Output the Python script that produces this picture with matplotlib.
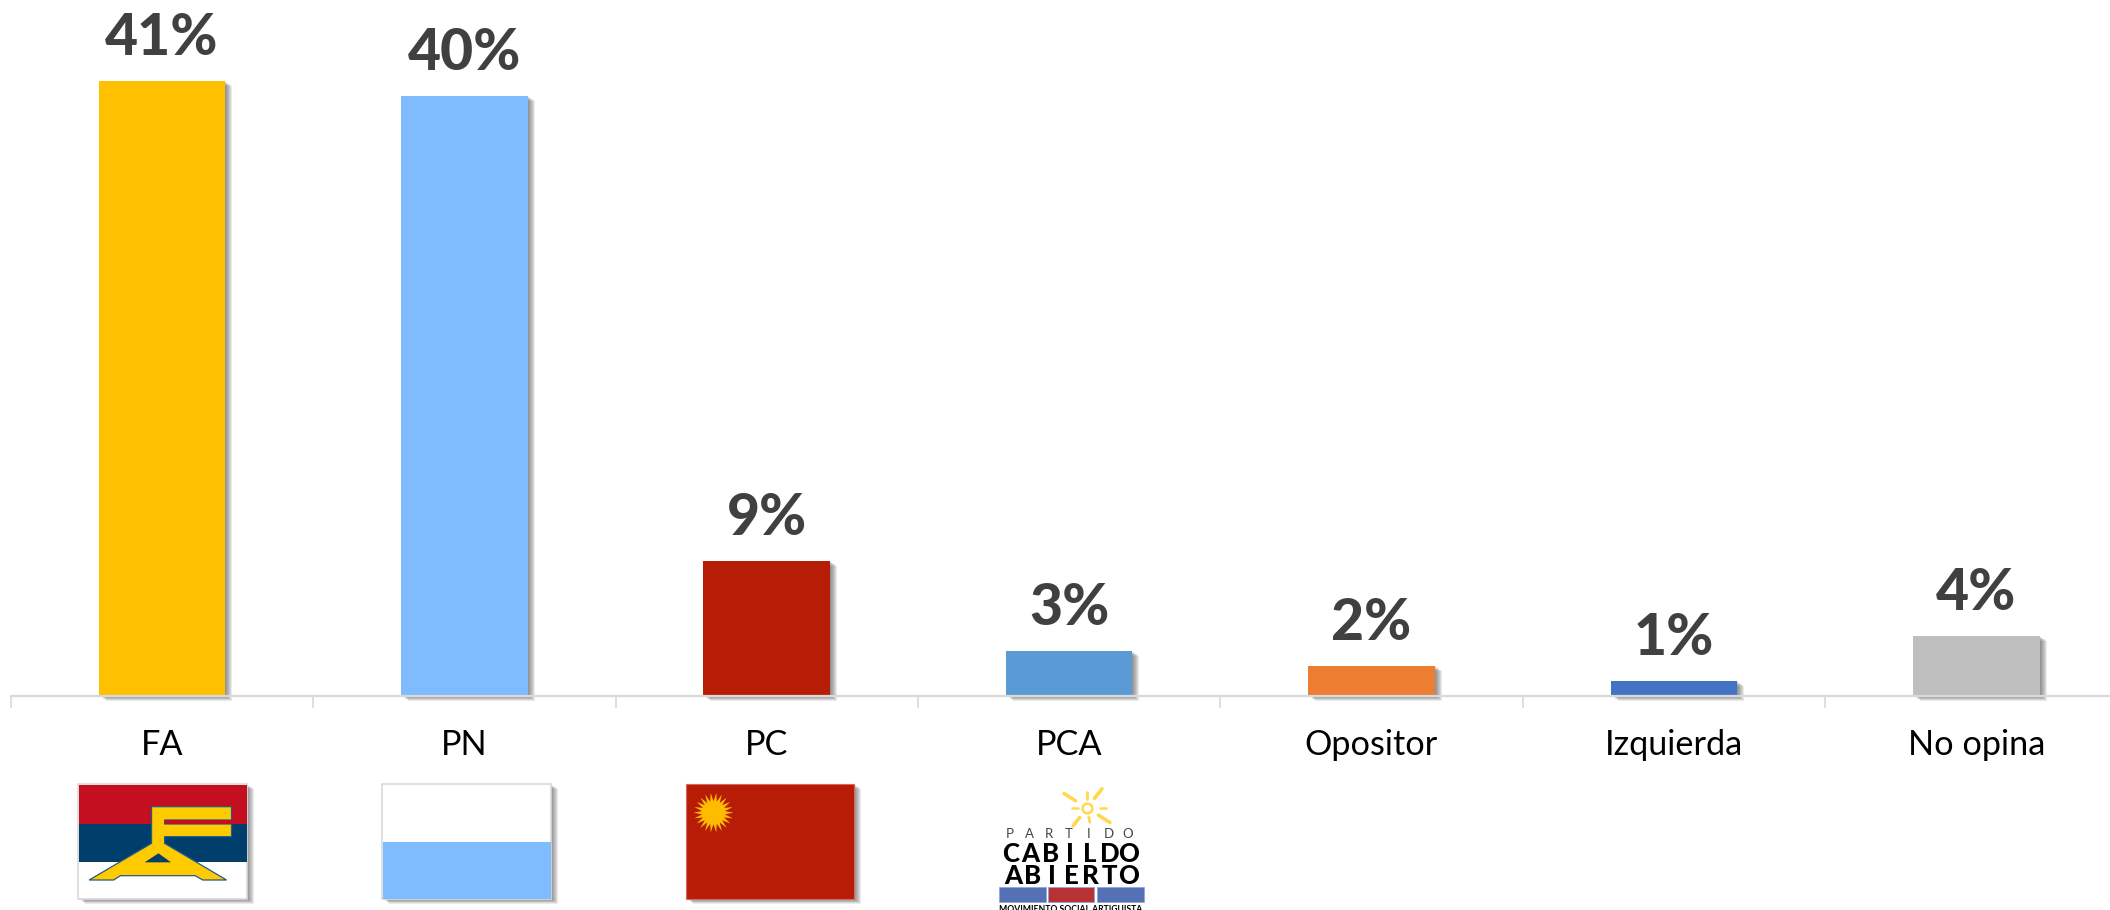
# Intencion de voto por partido, barras con logos debajo
import numpy as np
import matplotlib
matplotlib.use("Agg")
import matplotlib.pyplot as plt
import matplotlib.patheffects as pe
from matplotlib.patches import Rectangle, Polygon

categories = ["FA", "PN", "PC", "PCA", "Opositor", "Izquierda", "No opina"]
values = [41, 40, 9, 3, 2, 1, 4]
bar_colors = ["#FFC000", "#7FBCFF", "#B71C07", "#5B9BD5", "#ED7D31", "#4472C4", "#BFBFBF"]

W, H = 2110, 910
plt.rcParams["font.family"] = ["Lato", "DejaVu Sans"]


def soft_shadow(n=7, alpha=0.11):
    # stacked offsets, looks like a blurred office shadow
    effects = [pe.SimplePatchShadow(offset=(k * 0.72, -k * 0.5), shadow_rgbFace="#444444", alpha=alpha)
               for k in range(n, 0, -1)]
    return effects + [pe.Normal()]


fig = plt.figure(figsize=(W / 100, H / 100), dpi=100)
fig.patch.set_facecolor("white")

# 1. chart axes, right side runs off the picture like in the original
left, base = 10.7, 696
step = 302.4
ax = fig.add_axes([left / W, (H - base) / H, (W - left) / W, base / H])
ax.patch.set_alpha(0)

x = np.arange(len(categories))
bars = ax.bar(x, values, width=0.418, color=bar_colors, clip_on=False)
for b in bars:
    b.set_path_effects(soft_shadow())

for xi, v in zip(x, values):
    ax.annotate("{}%".format(v), (xi, v), xytext=(0, 19), textcoords="offset points",
                ha="center", va="baseline", fontsize=41, fontweight="black", color="#404040")

for s in ["top", "left", "right"]:
    ax.spines[s].set_visible(False)
ax.spines["bottom"].set_color("#D9D9D9")
ax.spines["bottom"].set_linewidth(1.6)
ax.set_yticks([])
ax.set_xticks(np.arange(len(categories) + 1) - 0.5)
ax.set_xticklabels([])
ax.tick_params(axis="x", which="major", length=8.6, width=1.2, color="#D9D9D9")
ax.set_xticks(x, minor=True)
ax.set_xticklabels(categories, minor=True, fontsize=24.7, color="black")
ax.tick_params(axis="x", which="minor", length=0, pad=24)
# limits last, set_xticks would widen them again
ax.set_xlim(-0.5, -0.5 + (W - left) / step)
ax.set_ylim(0, base / 15.0)

# 2. logos, drawn on a pixel overlay
lg = fig.add_axes([0, 0, 1, 1])
lg.set_xlim(0, W)
lg.set_ylim(H, 0)
lg.axis("off")
lg.patch.set_alpha(0)

top, bottom = 784, 899


def flag_base(x0, x1, color="white", edge="#D9D9D9", lw=1.2):
    r = Rectangle((x0, top), x1 - x0, bottom - top, facecolor=color, edgecolor=edge, linewidth=lw)
    r.set_path_effects(soft_shadow())
    lg.add_patch(r)


# FA
flag_base(78, 247)
lg.add_patch(Rectangle((79, 785), 168, 39, color="#C30F20", lw=0))
lg.add_patch(Rectangle((79, 824), 168, 38, color="#003F6C", lw=0))
fa_zoom = [(396, 380), (605, 380), (605, 420), (430, 420), (430, 432), (605, 432), (605, 470),
           (430, 470), (430, 490), (592, 600), (530, 600), (510, 587), (315, 587), (297, 600),
           (233, 600), (396, 490)]
fa_px = [(zx / 2.613, 680 + zy / 3) for zx, zy in fa_zoom]
lg.add_patch(Polygon(fa_px, closed=True, facecolor="#FFCB00", edgecolor="#1F5C8C", linewidth=0.9))
lg.add_patch(Rectangle((430 / 2.613, 680 + 421 / 3), 175 / 2.613, 3.5, color="#C30F20", lw=0))
lg.add_patch(Polygon([(378 / 2.613, 680 + 547 / 3), (414 / 2.613, 680 + 520 / 3), (447 / 2.613, 680 + 547 / 3)],
                     closed=True, color="#003F6C", lw=0))

# PN
flag_base(382, 551)
lg.add_patch(Rectangle((383, 842), 168, 56.5, color="#7FBCFF", lw=0))

# PC
flag_base(686, 854, color="#B71C07", edge="#D8695A", lw=0.8)
ang = np.linspace(0, 2 * np.pi, 44, endpoint=False)
rad = np.where(np.arange(44) % 2 == 0, 20, 11.5)
lg.add_patch(Polygon(np.column_stack([713.5 + rad * np.cos(ang), 812.7 + rad * np.sin(ang)]),
                     closed=True, color="#FFBB00", lw=0))

# PCA logo
sun_x, sun_y = 1087, 808
for a, r0, r1, lw in [(-145, 14, 28, 2.6), (-90, 10, 18, 2), (-55, 13, 26, 2.6), (0, 13, 19, 1.8),
                      (35, 14, 28, 2.6), (80, 10, 16, 2), (125, 13, 24, 2.6), (180, 9, 15, 1.8)]:
    t = np.deg2rad(a)
    lg.plot([sun_x + r0 * np.cos(t), sun_x + r1 * np.cos(t)],
            [sun_y + r0 * np.sin(t) * 0.9, sun_y + r1 * np.sin(t) * 0.9],
            color="#FFD84D", lw=lw, solid_capstyle="round")
lg.plot([sun_x], [sun_y], "o", ms=7, mfc="white", mec="#FFD84D", mew=1.8)


def spaced(word, x0, x1, y, **kw):
    for ch, xc in zip(word, np.linspace(x0, x1, len(word))):
        lg.text(xc, y, ch, ha="center", va="center", **kw)


spaced("PARTIDO", 1010, 1128, 834, fontsize=9.5, color="#444444")
spaced("CABILDO", 1011, 1129, 854, fontsize=18.5, fontweight="black", color="black")
spaced("ABIERTO", 1013, 1129, 875.5, fontsize=18.5, fontweight="black", color="black")
for x0, x1, c in [(998.6, 1045.6, "#5472B3"), (1047.6, 1094, "#B63234"), (1096.6, 1144, "#5472B3")]:
    lg.add_patch(Rectangle((x0, 887), x1 - x0, 15, facecolor=c, edgecolor="#8FA6D6", linewidth=0.6))
lg.text(1070.5, 909.5, "MOVIMIENTO SOCIAL ARTIGUISTA", ha="center", va="center",
        fontsize=6.2, fontweight="bold", color="black")

fig.savefig("out.png", dpi=100)
